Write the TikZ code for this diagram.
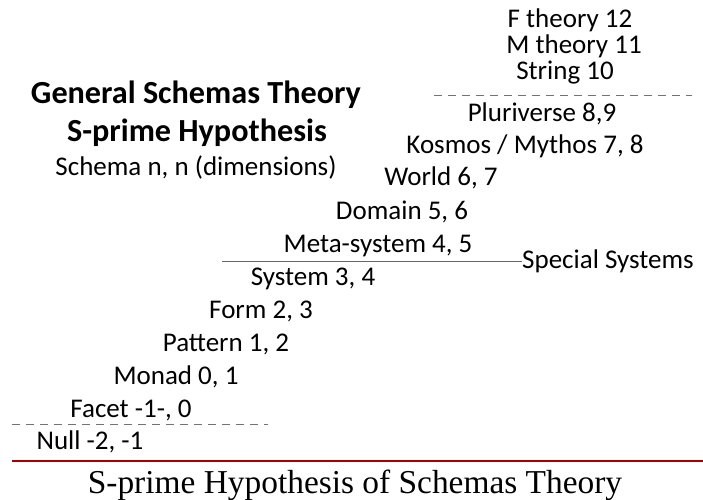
\documentclass[tikz,border=0pt]{standalone}
\usepackage{fontspec}
\setmainfont{Carlito}
\newfontfamily\capfont{Liberation Serif}
\begin{document}
\begin{tikzpicture}[x=1pt,y=-1pt,
  lvl/.style={anchor=base,inner sep=0pt,font=\fontsize{27}{30}\selectfont},
  ttl/.style={anchor=base,inner sep=0pt,font=\fontsize{32.2}{35}\selectfont\bfseries},
  dsh/.style={draw=black!55,line width=0.8pt,dash pattern=on 8pt off 6pt},
  sol/.style={draw=black!60,line width=0.8pt},
  redl/.style={draw=red!65!black,line width=2pt}]
\useasboundingbox (0,0) rectangle (703,499);
% right top
\node[lvl] (f) at (570,27) {F theory 12};
\node[lvl] (m) at (574,53) {M theory 11};
\node[lvl] (s) at (565,79) {String 10};
\coordinate (d1a) at (434,95);
\coordinate (d1b) at (692,95);
\draw[dsh] (d1a) -- (d1b);
\node[lvl] (p) at (542,121) {Pluriverse 8,9};
\node[lvl] (k) at (525,153) {Kosmos / Mythos 7, 8};
\node[lvl] (w) at (441,185) {World 6, 7};
% title
\node[ttl] (t1) at (196,103) {General Schemas Theory};
\node[ttl] (t2) at (197,141) {S-prime Hypothesis};
\node[lvl] (t3) at (196,175) {Schema n, n (dimensions)};
% staircase
\node[lvl] (dom) at (402,219) {Domain 5, 6};
\node[lvl] (meta) at (378,252) {Meta-system 4, 5};
\coordinate (la) at (222,261);
\node[lvl,anchor=west] (spec) at (522,261) {Special Systems};
\draw[sol] (la) -- (spec.west);
\node[lvl] (sys) at (313,285) {System 3, 4};
\node[lvl] (form) at (261,318) {Form 2, 3};
\node[lvl] (pat) at (226,351) {Pattern 1, 2};
\node[lvl] (mon) at (176,384) {Monad 0, 1};
\node[lvl] (fac) at (131,417) {Facet -1-, 0};
\coordinate (d2a) at (12,424);
\coordinate (d2b) at (268,424);
\draw[dsh] (d2a) -- (d2b);
\node[lvl] (null) at (90,449) {Null -2, -1};
\coordinate (ra) at (12,460.5);
\coordinate (rb) at (703,460.5);
\draw[redl] (ra) -- (rb);
\node[anchor=base,inner sep=0pt,font=\fontsize{33.4}{37}\selectfont\capfont] (cap) at (355,493) {S-prime Hypothesis of Schemas Theory};
\end{tikzpicture}
\end{document}
